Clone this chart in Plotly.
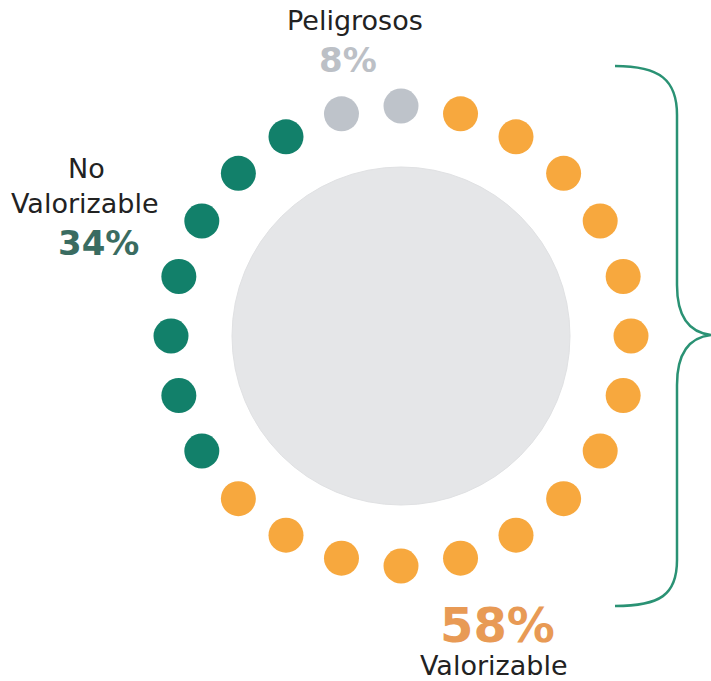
import math
import plotly.graph_objects as go

categories = ["Valorizable", "No Valorizable", "Peligrosos"]
percent_labels = ["58%", "34%", "8%"]
dot_counts = [15, 7, 2]
colors = ["#F7A83E", "#12806A", "#BEC3CA"]
text_colors = ["#E89A55", "#3A6C61", "#BCC0C6"]

W, H = 711, 681
cx, cy, R = 401, 336, 230
step = 360 / sum(dot_counts)
start = 75

fig = go.Figure()
# inner disc
fig.add_shape(type="circle", xref="x", yref="y", x0=cx - 169, x1=cx + 169, y0=cy - 169, y1=cy + 169,
              fillcolor="#E5E6E8", line=dict(color="#E0E1E3", width=1), layer="below")

k = 0
for cat, n, col in zip(categories, dot_counts, colors):
    xs, ys = [], []
    for i in range(n):
        a = math.radians(start - step * k)
        xs.append(cx + R * math.cos(a))
        ys.append(cy - R * math.sin(a))
        k += 1
    fig.add_trace(go.Scatter(x=xs, y=ys, mode="markers", name=cat,
                             marker=dict(size=35, color=col, line=dict(width=0)),
                             hoverinfo="name"))

# bracket
path = ("M 615 66 C 660 66, 677 80, 677 115 L 677 285 C 677 318, 690 333, 712 335 "
        "C 690 337, 677 352, 677 385 L 677 560 C 677 595, 660 606, 615 606")
fig.add_shape(type="path", xref="x", yref="y", path=path,
              line=dict(color="#2A9274", width=2.5))

font = "DejaVu Sans"
ann = [
    (355, 20, "Peligrosos", 27, "#222222", False),
    (348, 60, percent_labels[2], 34, text_colors[2], True),
    (86, 168, "No", 27, "#222222", False),
    (85, 203, "Valorizable", 27, "#222222", False),
    (98, 243, percent_labels[1], 34, text_colors[1], True),
    (497, 625, percent_labels[0], 48, text_colors[0], True),
    (494, 665, "Valorizable", 27, "#222222", False),
]
for x, y, t, s, c, b in ann:
    fig.add_annotation(x=x, y=y, xref="x", yref="y", text=f"<b>{t}</b>" if b else t,
                       showarrow=False, font=dict(family=font, size=s, color=c),
                       xanchor="center", yanchor="middle")

fig.update_xaxes(range=[0, W], visible=False, fixedrange=True)
fig.update_yaxes(range=[H, 0], visible=False, fixedrange=True)
fig.update_layout(width=W, height=H, margin=dict(l=0, r=0, t=0, b=0),
                  plot_bgcolor="white", paper_bgcolor="white", showlegend=False)
fig.write_html("out.html", post_script="document.body.style.margin='0';",
               config={"displayModeBar": False})
